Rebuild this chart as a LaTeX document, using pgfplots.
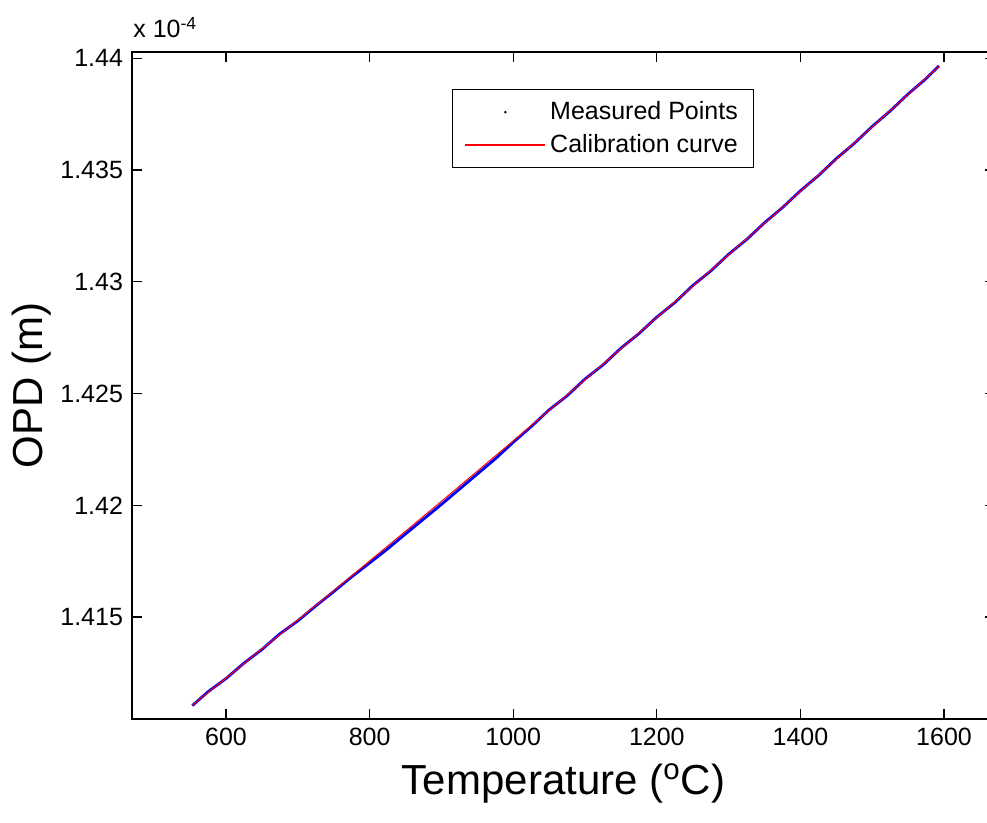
\documentclass[border=0pt]{standalone}
\usepackage{fontspec}
\setmainfont{Liberation Sans}
\usepackage{pgfplots}
\pgfplotsset{compat=1.18}
\begin{document}
\begin{tikzpicture}
\begin{axis}[
  scale only axis,
  width=431.5pt, height=333.5pt,
  xmin=469, xmax=1671,
  ymin=1.41044, ymax=1.44028,
  xtick={600,800,1000,1200,1400,1600},
  ytick={1.415,1.42,1.425,1.43,1.435,1.44},
  yticklabels={1.415,1.42,1.425,1.43,1.435,1.44},
  tick align=inside,
  major tick length=5pt,
  minor tick num=0,
  axis line style={line width=0.8pt},
  tick style={line width=0.6pt, black},
  /pgf/number format/assume math mode=true,
  /pgf/number format/1000 sep={},
  tick label style={font=\fontsize{12.5}{15}\selectfont},
  xticklabel style={yshift=-1pt},
  yticklabel style={xshift=-1pt},
  xlabel={Temperature (\textsuperscript{o}C)},
  ylabel={OPD (m)},
  label style={font=\fontsize{21}{25}\selectfont},
  xlabel style={at={(axis description cs:0.5,0)}, anchor=base, yshift=-38pt},
  ylabel style={at={(axis description cs:-0.1159,0.5)}, anchor=center},
  legend style={at={(rel axis cs:0.3708,0.9445)}, anchor=north west, draw=black, line width=0.6pt,
    font=\fontsize{12.5}{15}\selectfont, inner xsep=6pt, inner ysep=4pt, row sep=2pt,
    cells={anchor=west}},
  clip=true,
]
\addplot[blue, line width=1.4pt,
  legend image code/.code={\path[draw=none,fill=none] (0pt,0pt) -- (40pt,0pt); \fill[black,draw=none] (20pt,0pt) circle (0.7pt);}]
  table[row sep=\\] {
x y\\
553 1.41104\\
575 1.41166\\
600 1.41225\\
625 1.41294\\
650 1.41355\\
675 1.41425\\
700 1.41483\\
725 1.41550\\
750 1.41614\\
775 1.41680\\
800 1.41742\\
825 1.41805\\
850 1.41872\\
875 1.41938\\
900 1.42004\\
925 1.42072\\
950 1.42140\\
975 1.42208\\
1000 1.42282\\
1025 1.42352\\
1050 1.42427\\
1075 1.42490\\
1100 1.42565\\
1125 1.42628\\
1150 1.42703\\
1175 1.42768\\
1200 1.42842\\
1225 1.42907\\
1250 1.42983\\
1275 1.43048\\
1300 1.43123\\
1325 1.43189\\
1350 1.43264\\
1375 1.43332\\
1400 1.43407\\
1425 1.43475\\
1450 1.43551\\
1475 1.43619\\
1500 1.43695\\
1525 1.43764\\
1550 1.43840\\
1575 1.43909\\
1593 1.43966\\
};
\addlegendentry{Measured Points}
\addplot[red, line width=0.5pt,
  legend image code/.code={\draw[red, line width=0.8pt] (0pt,0pt) -- (40pt,0pt);}]
  table[row sep=\\] {
x y\\
553 1.41106\\
600 1.41227\\
650 1.41357\\
700 1.41487\\
750 1.41618\\
800 1.41751\\
850 1.41884\\
900 1.42018\\
950 1.42153\\
1000 1.42288\\
1050 1.42425\\
1100 1.42562\\
1150 1.42701\\
1200 1.42840\\
1250 1.42980\\
1300 1.43121\\
1350 1.43262\\
1400 1.43405\\
1450 1.43549\\
1500 1.43693\\
1550 1.43838\\
1593 1.43964\\
};
\addlegendentry{Calibration curve}
\end{axis}
\node[anchor=base west, inner sep=0pt, font=\fontsize{12.5}{15}\selectfont] at (0.5pt,340.5pt) {x 10\textsuperscript{-4}};
\pgfresetboundingbox
\path[use as bounding box] (-66pt,-52pt) rectangle (427.5pt,359.5pt);
\end{tikzpicture}
\end{document}
